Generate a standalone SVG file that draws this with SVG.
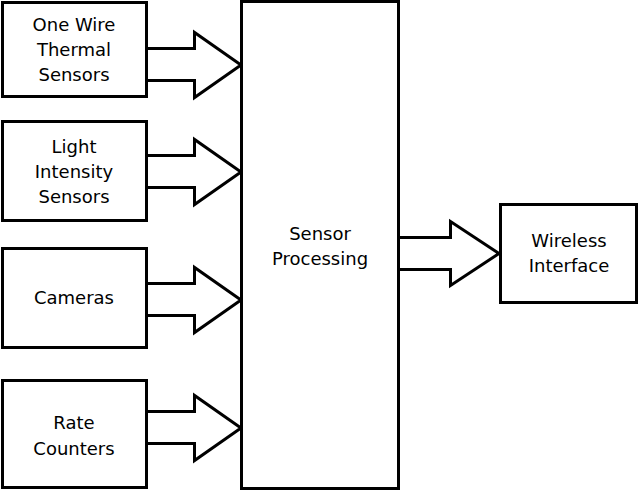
<svg xmlns="http://www.w3.org/2000/svg" width="639" height="491" viewBox="0 0 639 491">
<style>
.box{fill:#fff;stroke:#000;stroke-width:3}
.arr{fill:#fff;stroke:#000;stroke-width:3;stroke-linejoin:miter}
text{font-family:"DejaVu Sans",Verdana,sans-serif;font-size:18px;fill:#000;text-anchor:middle}
</style>
<rect width="639" height="491" fill="#fff"/>
<g id="connectors">
<path class="arr" d="M146.5,48.5 H194.5 V32.5 L241,65 L194.5,97.5 V80.5 H146.5"/>
<path class="arr" d="M146.5,155.5 H194.5 V139.5 L241,172 L194.5,204.5 V187.5 H146.5"/>
<path class="arr" d="M146.5,283.5 H194.5 V267.5 L241,300 L194.5,332.5 V315.5 H146.5"/>
<path class="arr" d="M146.5,411.5 H194.5 V395.5 L241,428 L194.5,460.5 V443.5 H146.5"/>
<path class="arr" d="M398.5,237.5 H450.5 V221.5 L499,253.5 L450.5,285.5 V269.5 H398.5"/>
</g>
<g id="n1"><rect class="box" x="2.5" y="2.5" width="144" height="94"/>
<text x="74" y="31">One Wire</text><text x="74" y="56">Thermal</text><text x="74" y="81">Sensors</text></g>
<g id="n2"><rect class="box" x="2.5" y="121.5" width="144" height="99"/>
<text x="74" y="153">Light</text><text x="74" y="178">Intensity</text><text x="74" y="203">Sensors</text></g>
<g id="n3"><rect class="box" x="2.5" y="248.5" width="144" height="99"/>
<text x="74" y="304">Cameras</text></g>
<g id="n4"><rect class="box" x="2.5" y="380.5" width="144" height="107"/>
<text x="74" y="429">Rate</text><text x="74" y="455">Counters</text></g>
<g id="n5"><rect class="box" x="241.5" y="1.5" width="157" height="487"/>
<text x="320" y="240">Sensor</text><text x="320" y="265">Processing</text></g>
<g id="n6"><rect class="box" x="500.5" y="204.5" width="136" height="98"/>
<text x="569" y="247">Wireless</text><text x="569" y="272">Interface</text></g>
</svg>
